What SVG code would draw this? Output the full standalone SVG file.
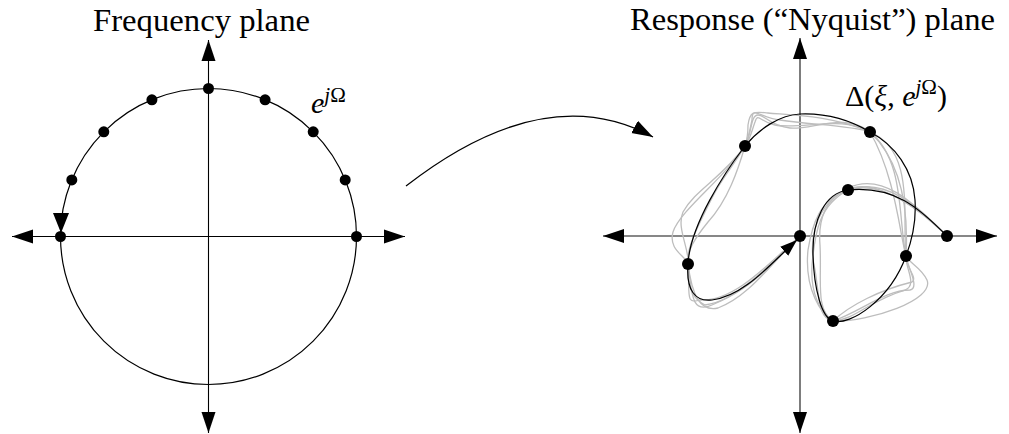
<svg xmlns="http://www.w3.org/2000/svg" width="1009" height="434" viewBox="0 0 1009 434">
<defs>
<style>
.ax{stroke:#000;stroke-width:1.1;fill:none}
.axr{stroke:#111;stroke-width:1.1;fill:none}
.crv{stroke:#000;stroke-width:1.2;fill:none}
.gry{stroke:#bdbdbd;stroke-width:1.3;fill:none}
.dot{fill:#000}
.t{font-family:"Liberation Serif","DejaVu Serif",serif;fill:#000}
.i{font-style:italic}
</style>
<marker id="ah" markerUnits="userSpaceOnUse" markerWidth="22" markerHeight="15" refX="21" refY="7" orient="auto-start-reverse" viewBox="0 0 22 14">
<path d="M0,0 L21,7 L0,14 z" fill="#000"/>
</marker>
<marker id="ahs" markerUnits="userSpaceOnUse" markerWidth="18" markerHeight="13" refX="17" refY="6" orient="auto" viewBox="0 0 18 12">
<path d="M0,0 L17,6 L0,12 z" fill="#000"/>
</marker>
</defs>
<rect width="1009" height="434" fill="#fff"/>

<g id="freq-plane">
<text class="t" x="201.5" y="31" font-size="31" text-anchor="middle" textLength="217" lengthAdjust="spacingAndGlyphs">Frequency plane</text>
<line class="ax" x1="12" y1="236.5" x2="405" y2="236.5" marker-start="url(#ah)" marker-end="url(#ah)"/>
<line class="ax" x1="208.5" y1="40" x2="208.5" y2="433" marker-start="url(#ah)" marker-end="url(#ah)"/>
<circle cx="208.5" cy="236.5" r="148" fill="none" stroke="#000" stroke-width="1.2"/>
<polygon points="53,213 69,213 61,233" fill="#000"/>
<g class="dot">
<circle cx="356.5" cy="236.5" r="5.5"/>
<circle cx="345.2" cy="179.9" r="5.5"/>
<circle cx="313.2" cy="131.8" r="5.5"/>
<circle cx="265.1" cy="99.8" r="5.5"/>
<circle cx="208.5" cy="88.5" r="5.5"/>
<circle cx="151.9" cy="99.8" r="5.5"/>
<circle cx="103.8" cy="131.8" r="5.5"/>
<circle cx="71.8" cy="179.9" r="5.5"/>
<circle cx="60.5" cy="236.5" r="5.5"/>
</g>
<text class="t" x="311" y="113" font-size="30"><tspan class="i">e</tspan><tspan font-size="21" dy="-11"><tspan class="i">j</tspan>Ω</tspan></text>
</g>

<g id="connectors">
<path class="crv" d="M406,186 Q545,78 653,137" marker-end="url(#ah)"/>
</g>

<g id="response-plane">
<text class="t" x="812.5" y="30" font-size="31" text-anchor="middle" textLength="365" lengthAdjust="spacingAndGlyphs">Response (“Nyquist”) plane</text>
<line class="axr" x1="603" y1="236" x2="997" y2="236" marker-start="url(#ah)" marker-end="url(#ah)"/>
<line class="axr" x1="800" y1="38" x2="800" y2="433" marker-start="url(#ah)" marker-end="url(#ah)"/>

<g id="perturbed-curves">
<path class="gry" d="M947,236 C920,210 885,170 848,188 C815,205 808,240 815,270 C820,300 818,318 833,321 C870,322 935,300 927,280 C922,268 908,262 906,256 C898,220 905,160 870,132 C850,125 810,125 780,120 C760,118 752,105 752,120 C750,130 748,140 745,146 C728,175 680,210 673,232 C668,250 686,256 688,264 C692,290 690,315 712,305 C745,292 775,260 800,236"/>
<path class="gry" d="M947,236 C915,205 880,180 848,190 C820,198 812,225 808,250 C804,290 822,315 833,321 C855,320 870,300 905,290 C918,285 905,268 906,256 C908,220 905,165 870,132 C845,115 800,130 775,125 C760,122 758,112 755,122 C752,130 750,140 745,146 C722,178 695,190 683,212 C676,228 690,250 688,264 C686,290 695,300 705,305 C740,300 775,262 800,236"/>
<path class="gry" d="M947,236 C925,215 890,175 848,190 C825,198 818,220 820,245 C822,280 815,310 833,321 C860,312 885,290 910,290 C920,288 908,268 906,256 C902,215 915,150 870,132 C830,115 790,115 768,113 C755,112 750,110 748,125 C748,135 747,140 745,146 C738,170 728,200 708,222 C695,238 686,252 688,264 C690,295 685,305 700,300 C735,302 770,262 800,236"/>
<path class="gry" d="M947,236 C910,200 870,178 848,190 C820,205 815,230 812,265 C810,300 825,315 833,321 C850,305 880,290 912,282 C918,278 906,268 906,256 C900,235 895,175 870,132 C845,112 812,130 790,128 C770,126 765,115 758,115 C750,115 752,135 745,146 C732,168 722,178 712,198 C700,222 685,250 688,264 C692,295 700,312 718,308 C750,296 772,262 800,236"/>
</g>

<path id="nominal-curve" class="crv" d="M947,236 C925,215 900,185 848,190 C825,193 812,220 813,255 C814,290 822,318 833,321 C850,326 890,300 906,256 C914,235 916,215 915,200 C913,170 895,145 870,132 C850,120 825,113 800,114 C780,115 760,128 745,146 C725,172 690,225 688,264 C686,290 695,302 712,300 C745,296 772,262 797,240" marker-end="url(#ahs)"/>

<g class="dot">
<circle cx="947" cy="236" r="6"/>
<circle cx="848" cy="190" r="6"/>
<circle cx="833" cy="321" r="6"/>
<circle cx="906" cy="256" r="6"/>
<circle cx="870" cy="132" r="6"/>
<circle cx="745" cy="146" r="6"/>
<circle cx="688" cy="264" r="6"/>
<circle cx="800" cy="236" r="6"/>
</g>
<text class="t" x="845" y="106" font-size="30">Δ(<tspan class="i">ξ</tspan>, <tspan class="i">e</tspan><tspan font-size="21" dy="-12"><tspan class="i">j</tspan>Ω</tspan><tspan dy="12">)</tspan></text>
</g>
</svg>
